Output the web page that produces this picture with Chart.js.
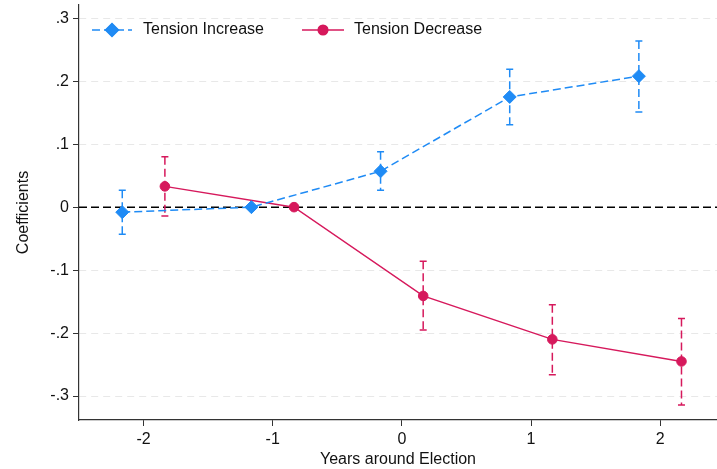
<!DOCTYPE html>
<html>
<head>
<meta charset="utf-8">
<script src="https://cdn.jsdelivr.net/npm/chart.js@4/dist/chart.umd.min.js"></script>
<style>
  html, body { margin: 0; padding: 0; background: #fff; }
  #wrap { width: 717px; height: 469px; }
</style>
</head>
<body>
<div id="wrap"><canvas id="c" width="717" height="469"></canvas></div>
<script>
// Event-study estimates around elections
const xIncrease = [-2.165, -1.165, -0.165, 0.835, 1.835];
const incCoef   = [-0.008, 0.0, 0.057, 0.175, 0.208];
const incLow    = [-0.043, null, 0.027, 0.131, 0.151];
const incHigh   = [0.027, null, 0.088, 0.219, 0.264];

const xDecrease = [-1.835, -0.835, 0.165, 1.165, 2.165];
const decCoef   = [0.033, 0.0, -0.141, -0.210, -0.245];
const decLow    = [-0.014, null, -0.195, -0.266, -0.314];
const decHigh   = [0.080, null, -0.086, -0.155, -0.177];

const xTicks = [-2, -1, 0, 1, 2];
const yTicks = [0.3, 0.2, 0.1, 0, -0.1, -0.2, -0.3];
const yTickLabels = ['.3', '.2', '.1', '0', '-.1', '-.2', '-.3'];

const BLUE = '#1f8bf5';
const RED = '#d6195c';
const FONT = '"Liberation Sans", Arial, Helvetica, sans-serif';

function pts(xs, ys) { return xs.map((x, i) => ({ x: x, y: ys[i] })); }

// Confidence intervals as dashed whiskers with caps, plus the dashed zero reference line
const intervalPlugin = {
  id: 'intervals',
  beforeDatasetsDraw(chart) {
    const { ctx, chartArea, scales: { x, y } } = chart;
    ctx.save();
    ctx.strokeStyle = '#000';
    ctx.lineWidth = 1.5;
    ctx.setLineDash([8, 4]);
    const y0 = y.getPixelForValue(0);
    ctx.beginPath();
    ctx.moveTo(chartArea.left, y0);
    ctx.lineTo(chartArea.right, y0);
    ctx.stroke();

    const groups = [
      { xs: xIncrease, lo: incLow, hi: incHigh, color: BLUE },
      { xs: xDecrease, lo: decLow, hi: decHigh, color: RED }
    ];
    groups.forEach(g => {
      ctx.strokeStyle = g.color;
      ctx.lineWidth = 1.5;
      g.xs.forEach((xv, i) => {
        if (g.lo[i] === null || g.hi[i] === null) return;
        const px = x.getPixelForValue(xv);
        const pl = y.getPixelForValue(g.lo[i]);
        const ph = y.getPixelForValue(g.hi[i]);
        ctx.setLineDash([8, 4]);
        ctx.beginPath();
        ctx.moveTo(px, ph);
        ctx.lineTo(px, pl);
        ctx.stroke();
        ctx.setLineDash([]);
        ctx.beginPath();
        ctx.moveTo(px - 3.5, ph); ctx.lineTo(px + 3.5, ph);
        ctx.moveTo(px - 3.5, pl); ctx.lineTo(px + 3.5, pl);
        ctx.stroke();
      });
    });
    ctx.restore();
  }
};

// Legend drawn inside the plot: key line with marker, then label
const keyPlugin = {
  id: 'keyLegend',
  afterDraw(chart) {
    const { ctx } = chart;
    const items = [
      { x0: 92, x1: 132, label: 'Tension Increase', tx: 143, color: BLUE, dash: [8, 4], style: 'rectRot', r: 6.5 },
      { x0: 302, x1: 344, label: 'Tension Decrease', tx: 354, color: RED, dash: [], style: 'circle', r: 4.8 }
    ];
    const yy = 30;
    ctx.save();
    items.forEach(it => {
      ctx.strokeStyle = it.color;
      ctx.lineWidth = 1.5;
      ctx.setLineDash(it.dash);
      ctx.beginPath();
      ctx.moveTo(it.x0, yy);
      ctx.lineTo(it.x1, yy);
      ctx.stroke();
      ctx.setLineDash([]);
      Chart.helpers.drawPoint(ctx, {
        pointStyle: it.style, radius: it.r, borderWidth: 1,
        backgroundColor: it.color, borderColor: it.color
      }, (it.x0 + it.x1) / 2, yy);
      ctx.fillStyle = it.color;
      ctx.fill();
      ctx.fillStyle = '#111';
      ctx.font = '16px ' + FONT;
      ctx.textBaseline = 'middle';
      ctx.textAlign = 'left';
      ctx.fillText(it.label, it.tx, yy);
    });
    ctx.restore();
  }
};

new Chart(document.getElementById('c'), {
  type: 'scatter',
  data: {
    datasets: [
      {
        label: 'Tension Increase',
        data: pts(xIncrease, incCoef),
        showLine: true,
        borderColor: BLUE,
        backgroundColor: BLUE,
        borderWidth: 1.5,
        borderDash: [8, 4],
        pointStyle: 'rectRot',
        pointRadius: 6.5,
        pointHoverRadius: 6.5,
        pointBorderWidth: 1
      },
      {
        label: 'Tension Decrease',
        data: pts(xDecrease, decCoef),
        showLine: true,
        borderColor: RED,
        backgroundColor: RED,
        borderWidth: 1.5,
        pointStyle: 'circle',
        pointRadius: 4.8,
        pointHoverRadius: 4.8,
        pointBorderWidth: 1
      }
    ]
  },
  options: {
    responsive: false,
    animation: false,
    events: [],
    layout: { autoPadding: false, padding: { top: 5, right: 0, left: 0, bottom: 0 } },
    plugins: {
      legend: { display: false },
      tooltip: { enabled: false }
    },
    scales: {
      x: {
        type: 'linear',
        min: -2.5,
        max: 2.44,
        afterBuildTicks: s => { s.ticks = xTicks.map(v => ({ value: v })); },
        afterFit: s => { s.height = 49; s.paddingLeft = 0; s.paddingRight = 0; },
        ticks: {
          color: '#111',
          font: { family: FONT, size: 16 },
          padding: 4,
          callback: v => String(v)
        },
        grid: {
          drawOnChartArea: false,
          drawTicks: true,
          tickLength: 6,
          tickColor: '#333',
          tickWidth: 1
        },
        border: { color: '#333', width: 1.2 },
        title: {
          display: true,
          text: 'Years around Election',
          color: '#111',
          font: { family: FONT, size: 16 },
          padding: { top: 2, bottom: 0 }
        }
      },
      y: {
        type: 'linear',
        min: -0.338,
        max: 0.321,
        afterBuildTicks: s => { s.ticks = yTicks.map(v => ({ value: v })); },
        afterFit: s => { s.width = 79; s.paddingTop = 0; s.paddingBottom = 0; },
        ticks: {
          color: '#111',
          font: { family: FONT, size: 16 },
          padding: 4,
          callback: (v) => {
            const i = yTicks.findIndex(t => Math.abs(t - v) < 1e-9);
            return i >= 0 ? yTickLabels[i] : '';
          }
        },
        grid: {
          color: '#e8e8e8',
          lineWidth: 1,
          drawTicks: true,
          tickLength: 6,
          tickColor: '#333',
          tickWidth: 1,
          tickBorderDash: []
        },
        border: { color: '#333', width: 1.2, dash: [7, 5] },
        title: {
          display: true,
          text: 'Coefficients',
          color: '#111',
          font: { family: FONT, size: 16 },
          padding: { top: 14, bottom: 6 }
        }
      }
    }
  },
  plugins: [intervalPlugin, keyPlugin]
});
</script>
</body>
</html>
